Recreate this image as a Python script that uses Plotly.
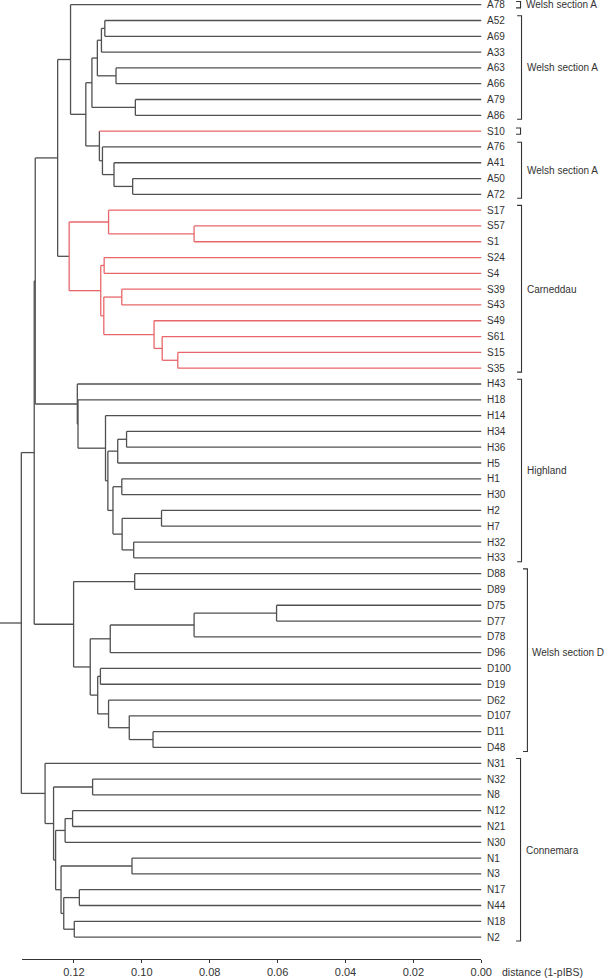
import plotly.graph_objects as go

# ---------------- data ----------------
leaves = ["A78", "A52", "A69", "A33", "A63", "A66", "A79", "A86", "S10", "A76", "A41", "A50", "A72",
          "S17", "S57", "S1", "S24", "S4", "S39", "S43", "S49", "S61", "S15", "S35",
          "H43", "H18", "H14", "H34", "H36", "H5", "H1", "H30", "H2", "H7", "H32", "H33",
          "D88", "D89", "D75", "D77", "D78", "D96", "D100", "D19", "D62", "D107", "D11", "D48",
          "N31", "N32", "N8", "N12", "N21", "N30", "N1", "N3", "N17", "N44", "N18", "N2"]

merge_name = ["a1", "a2", "a3", "a4", "a5", "a6", "a7", "a8", "a9", "a10", "a11", "A",
              "s1", "s2", "s3", "s4", "s5", "s6", "s7", "s8", "s9", "S",
              "Z",
              "h1", "h2", "h3", "h4", "h5", "h6", "h7", "h8", "h9", "h10", "H",
              "Y",
              "d1", "d2", "d3", "d4", "d5", "d6", "d7", "d8", "d9", "d10", "D",
              "X",
              "n1", "n2", "n3", "n4", "n5", "n6", "n7", "n8", "n9", "n10", "N",
              "root"]
merge_left = ["A52", "a1", "A63", "a2", "A79", "a4", "A50", "A41", "A76", "S10", "a6", "A78",
              "S57", "S17", "S24", "S39", "S15", "S61", "S49", "s4", "s3", "s2",
              "A",
              "H34", "h1", "H1", "H2", "H32", "h4", "h3", "h2", "H14", "H18", "H43",
              "Z",
              "D88", "D75", "d2", "d3", "D100", "D11", "D107", "D62", "d5", "d4", "d1",
              "Y",
              "N32", "N12", "n2", "N1", "N17", "N18", "n5", "n4", "n3", "n1", "N31",
              "X"]
merge_right = ["A69", "A33", "A66", "a3", "A86", "a5", "A72", "a7", "a8", "a9", "a10", "a11",
               "S1", "s1", "S4", "S43", "S35", "s5", "s6", "s7", "s8", "s9",
               "S",
               "H36", "H5", "H30", "H7", "H33", "h5", "h6", "h7", "h8", "h9", "h10",
               "H",
               "D89", "D77", "D78", "D96", "D19", "D48", "d6", "d7", "d8", "d9", "d10",
               "D",
               "N8", "N21", "N30", "N3", "N44", "N2", "n6", "n7", "n8", "n9", "n10",
               "N"]
merge_height = [0.1109, 0.1119, 0.1076, 0.1131, 0.1019, 0.1147, 0.1027, 0.1082, 0.1116, 0.1125, 0.1165, 0.1210,
                0.0846, 0.1098, 0.1111, 0.1059, 0.0894, 0.0940, 0.0964, 0.1112, 0.1121, 0.1214,
                0.1248,
                0.1045, 0.1071, 0.1059, 0.0942, 0.1024, 0.1058, 0.1085, 0.1100, 0.1107, 0.1188, 0.1190,
                0.1314,
                0.1021, 0.0603, 0.0846, 0.1093, 0.1122, 0.0967, 0.1037, 0.1098, 0.1130, 0.1152, 0.1201,
                0.1317,
                0.1145, 0.1204, 0.1226, 0.1029, 0.1184, 0.1199, 0.1230, 0.1238, 0.1254, 0.1260, 0.1285,
                0.1355]

red_clade = "S"
red_extra_leaves = ["S10"]

group_names = ["Welsh section A", "Welsh section A", "", "Welsh section A",
               "Carneddau", "Highland", "Welsh section D", "Connemara"]
group_first = ["A78", "A52", "S10", "A76", "S17", "H43", "D88", "N31"]
group_last = ["A78", "A86", "S10", "A72", "S35", "H33", "D48", "N2"]

tick_values = [0.12, 0.10, 0.08, 0.06, 0.04, 0.02, 0.00]
axis_title = "distance (1-pIBS)"

# ---------------- styles / layout constants ----------------
W, H = 616, 978
PX_PER_UNIT = 3456.0
ZERO_PX = 490.0
ROW0_PX = 4.7
ROW_PX = 15.82
GRAY = "#505050"
RED = "#e8666b"
FONT = "Liberation Sans, Arial, Helvetica, sans-serif"
label_row_shift = [0, 0, 0, 0, 0, 0, -0.5, 0]
bracket_px = [530, 531, 530, 531, 531, 531, 537, 530]


def px_to_d(px):
    return (ZERO_PX - px) / PX_PER_UNIT


x_range = [px_to_d(0), px_to_d(W)]
y_range = [(H - ROW0_PX) / ROW_PX, -ROW0_PX / ROW_PX]

# ---------------- tree geometry ----------------
pos = {n: i for i, n in enumerate(leaves)}
hgt = {n: 0.0 for n in leaves}
children = {}
for n, l, r, h in zip(merge_name, merge_left, merge_right, merge_height):
    pos[n] = (pos[l] + pos[r]) / 2.0
    hgt[n] = h
    children[n] = (l, r)


def descendants(n):
    out = {n}
    if n in children:
        for c in children[n]:
            out |= descendants(c)
    return out


red_set = descendants(red_clade) | set(red_extra_leaves)

segs = {GRAY: ([], []), RED: ([], [])}


def add(color, xs, ys):
    segs[color][0].extend(xs + [None])
    segs[color][1].extend(ys + [None])


for n, l, r, h in zip(merge_name, merge_left, merge_right, merge_height):
    add(RED if n in red_set else GRAY, [h, h], [pos[l], pos[r]])
    for c in (l, r):
        is_red = c in red_set and (n in red_set or c not in children)
        add(RED if is_red else GRAY, [h, hgt[c]], [pos[c], pos[c]])

# root stem to the left edge
add(GRAY, [hgt["root"], x_range[0]], [pos["root"], pos["root"]])

fig = go.Figure()
for color, (xs, ys) in segs.items():
    fig.add_trace(go.Scatter(x=xs, y=ys, mode="lines",
                             line=dict(color=color, width=1.3),
                             hoverinfo="skip", showlegend=False))

# brackets
bx, by = [], []
for i, (f, l) in enumerate(zip(group_first, group_last)):
    xb = px_to_d(bracket_px[i])
    xt = px_to_d(bracket_px[i] - 4.5)
    if f == l:
        top, bot = pos[f] - 0.2, pos[l] + 0.2
    else:
        top, bot = pos[f] - 0.3, pos[l] + 0.25
    bx += [xt, xb, xb, xt, None]
    by += [top, top, bot, bot, None]
fig.add_trace(go.Scatter(x=bx, y=by, mode="lines", line=dict(color="#333333", width=1.1),
                         hoverinfo="skip", showlegend=False))

annotations = []
for n in leaves:
    annotations.append(dict(x=0, y=pos[n], xref="x", yref="y", text=n, showarrow=False,
                            xanchor="left", yanchor="middle", xshift=4,
                            font=dict(family=FONT, size=10, color="#333333")))
for i, name in enumerate(group_names):
    if not name:
        continue
    row = (pos[group_first[i]] + pos[group_last[i]]) / 2.0 + label_row_shift[i]
    annotations.append(dict(x=px_to_d(bracket_px[i]), y=row, xref="x", yref="y", text=name,
                            showarrow=False, xanchor="left", yanchor="middle", xshift=3,
                            font=dict(family=FONT, size=10, color="#333333")))

annotations.append(dict(x=0, y=(H - 973) / H, xref="x2", yref="paper", text=axis_title,
                        showarrow=False, xanchor="left", yanchor="middle", xshift=19,
                        font=dict(family=FONT, size=10.5, color="#333333")))

# dummy trace to materialise the scale axis
fig.add_trace(go.Scatter(x=[0], y=[0], xaxis="x2", yaxis="y2", mode="markers",
                         marker=dict(size=0, opacity=0), hoverinfo="skip", showlegend=False))

axis_y = (H - 960) / H
fig.update_layout(
    width=W, height=H,
    margin=dict(l=0, r=0, t=0, b=0),
    paper_bgcolor="white", plot_bgcolor="rgba(0,0,0,0)",
    xaxis=dict(range=x_range, visible=False, domain=[0, 1]),
    yaxis=dict(range=y_range, visible=False, domain=[0, 1]),
    xaxis2=dict(range=[px_to_d(22), 0], domain=[22 / W, ZERO_PX / W], anchor="y2",
                showline=True, linecolor="#333333", linewidth=1,
                ticks="outside", ticklen=3, tickcolor="#333333", tickwidth=1,
                tickvals=tick_values, ticktext=["%.2f" % v for v in tick_values],
                tickfont=dict(family=FONT, size=11, color="#333333"),
                showgrid=False, zeroline=False),
    yaxis2=dict(range=[0, 1], domain=[axis_y, axis_y + 0.02], visible=False),
    annotations=annotations,
    font=dict(family=FONT),
)

fig.write_html("out.html",
               config={"displayModeBar": False, "staticPlot": True},
               post_script="document.body.style.margin='0';document.body.style.overflow='hidden';")
